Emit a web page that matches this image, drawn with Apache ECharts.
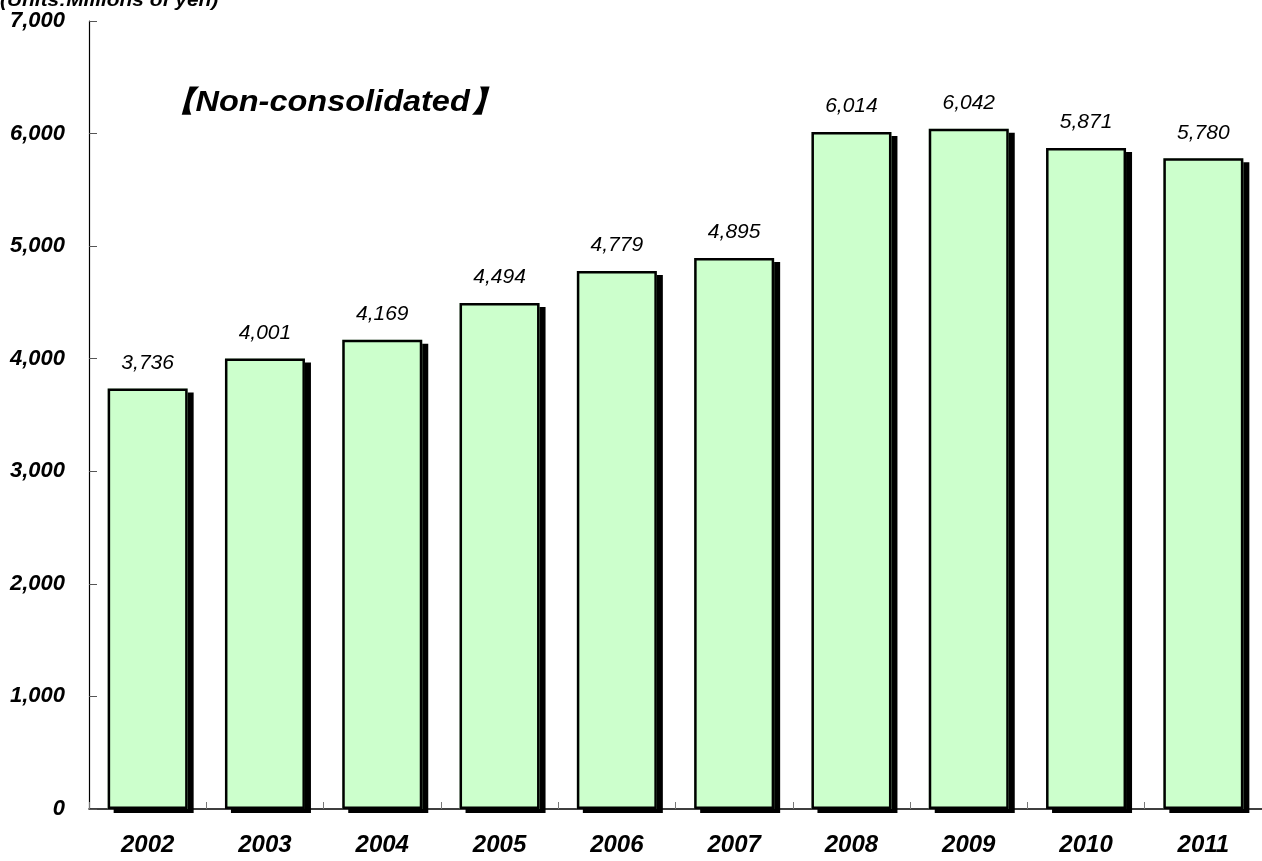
<!DOCTYPE html>
<html>
<head>
<meta charset="utf-8">
<script src="https://cdn.jsdelivr.net/npm/echarts@6/dist/echarts.min.js"></script>
<style>
  html, body { margin: 0; padding: 0; background: #fff; }
  #chart { width: 1262px; height: 861px; }
</style>
</head>
<body>
<div id="chart"></div>
<script>
// Fiscal years on the category axis
const years = ['2002', '2003', '2004', '2005', '2006', '2007', '2008', '2009', '2010', '2011'];
// Non-consolidated amounts, millions of yen
const amounts = [3736, 4001, 4169, 4494, 4779, 4895, 6014, 6042, 5871, 5780];
// Value axis range and step
const yMin = 0;
const yMax = 7000;
const yStep = 1000;

const fmt = v => Number(v).toLocaleString('en-US');
const FONT = '"Liberation Sans", Arial, sans-serif';

const chart = echarts.init(document.getElementById('chart'), null, { renderer: 'canvas' });
chart.setOption({
  animation: false,
  backgroundColor: '#ffffff',
  grid: { left: 89, top: 21, width: 1180, height: 788, containLabel: false },
  graphic: [
    {
      type: 'text', left: 0, top: -9, scaleX: 1.1,
      style: { text: '(Units:Millions of yen)', font: 'italic bold 19px ' + FONT, fill: '#000' }
    },
    {
      type: 'text', left: 163, top: 88, scaleX: 1.12,
      style: { text: '【Non-consolidated】', font: 'italic bold 29px ' + FONT, fill: '#000' }
    }
  ],
  xAxis: {
    type: 'category',
    data: years,
    axisLine: { lineStyle: { color: '#000', width: 1.5 } },
    axisTick: { show: true, inside: true, length: 7, lineStyle: { color: '#777', width: 1 } },
    axisLabel: { margin: 24, color: '#000', fontSize: 24, fontStyle: 'italic', fontWeight: 'bold', fontFamily: FONT }
  },
  yAxis: {
    type: 'value',
    min: yMin, max: yMax, interval: yStep,
    splitLine: { show: false },
    axisLine: { show: true, lineStyle: { color: '#000', width: 1.2 } },
    axisTick: { show: true, inside: true, length: 8, lineStyle: { color: '#555' } },
    axisLabel: { margin: 24, color: '#000', fontSize: 22, fontStyle: 'italic', fontWeight: 'bold', fontFamily: FONT, formatter: v => fmt(v) }
  },
  series: [
    {
      // filled bars casting the hard black drop shadow
      type: 'bar',
      data: amounts,
      barWidth: 80,
      barGap: '-100%',
      itemStyle: {
        color: '#ccffcc',
        shadowColor: '#000',
        shadowBlur: 0,
        shadowOffsetX: 6,
        shadowOffsetY: 4
      },
      label: {
        show: true,
        position: 'top',
        distance: 15,
        color: '#000',
        fontSize: 21,
        fontStyle: 'italic',
        fontFamily: FONT,
        formatter: p => fmt(p.value)
      }
    },
    {
      // black outline drawn on top of each bar
      type: 'bar',
      data: amounts,
      barWidth: 80,
      barGap: '-100%',
      silent: true,
      itemStyle: {
        color: 'rgba(0,0,0,0)',
        borderColor: '#000',
        borderWidth: 2.5
      }
    }
  ]
});
</script>
</body>
</html>
